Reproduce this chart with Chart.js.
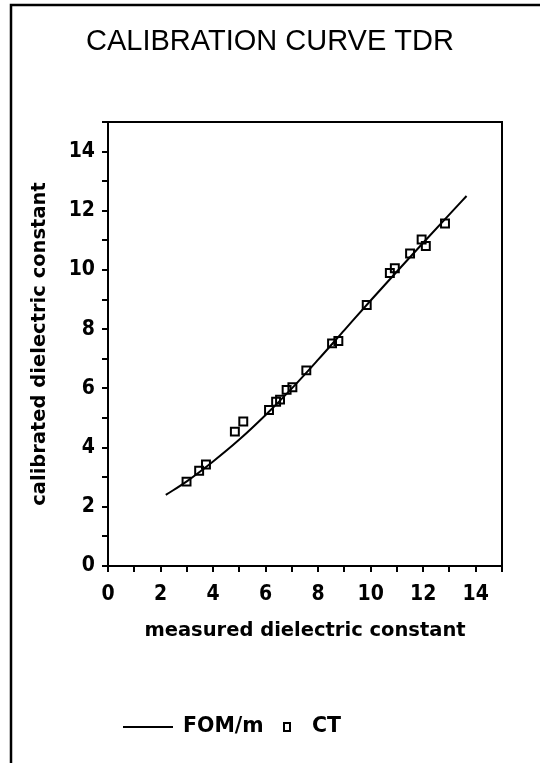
<!DOCTYPE html>
<html><head><meta charset="utf-8">
<script src="https://cdn.jsdelivr.net/npm/chart.js@4/dist/chart.umd.min.js"></script>
<style>html,body{margin:0;padding:0;background:#fff;}canvas{display:block;}</style>
</head><body>
<canvas id="c" width="540" height="763"></canvas>
<script>
// ---- data ----
const chartTitle = 'CALIBRATION CURVE TDR';
const xAxisTitle = 'measured dielectric constant';
const yAxisTitle = 'calibrated dielectric constant';
const seriesNames = ['FOM/m', 'CT'];
const axisMin = 0;
const axisMax = 15;
const tickStep = 1;
const labelledTicks = [0, 2, 4, 6, 8, 10, 12, 14];

// fitted calibration curve (FOM/m)
const fomMeasured   = [2.2, 3.0, 4.0, 5.0, 6.0, 7.0, 8.0, 9.0, 10.0, 11.0, 12.0, 13.0, 13.65];
const fomCalibrated = [2.40, 2.86, 3.53, 4.27, 5.10, 6.00, 6.97, 7.97, 8.97, 9.95, 10.92, 11.88, 12.50];

// CT measurements (squares)
const ctMeasured   = [2.99, 3.47, 3.73, 4.83, 5.15, 6.13, 6.40, 6.55, 6.80, 7.02, 7.55, 8.53, 8.77, 9.85, 10.73, 10.92, 11.50, 11.94, 12.10, 12.83];
const ctCalibrated = [2.85, 3.22, 3.43, 4.54, 4.88, 5.27, 5.55, 5.62, 5.95, 6.04, 6.61, 7.52, 7.60, 8.82, 9.90, 10.06, 10.56, 11.03, 10.81, 11.57];

const toXY = (xs, ys) => xs.map((x, i) => ({x: x, y: ys[i]}));

const tickFont = {family: "'Liberation Sans Narrow', 'DejaVu Sans Condensed', 'Liberation Sans', sans-serif", size: 21, weight: 'bold'};
const textFont = {family: "'DejaVu Sans', sans-serif", size: 19.5, weight: 'bold'};

const framePlugin = {
  id: 'frame',
  afterDraw(chart) {
    const ctx = chart.ctx;
    const a = chart.chartArea;
    ctx.save();
    ctx.strokeStyle = '#000';
    // outer page frame (top and left edges)
    ctx.lineWidth = 2.5;
    ctx.beginPath();
    ctx.moveTo(11, 763); ctx.lineTo(11, 5); ctx.lineTo(540, 5);
    ctx.stroke();
    // plot box top & right
    ctx.lineWidth = 2;
    ctx.beginPath();
    ctx.moveTo(a.left, a.top); ctx.lineTo(a.right, a.top); ctx.lineTo(a.right, a.bottom);
    ctx.stroke();
    // legend
    const ds = chart.data.datasets;
    const ly = 727;
    ctx.lineWidth = ds[0].borderWidth;
    ctx.strokeStyle = ds[0].borderColor;
    ctx.beginPath(); ctx.moveTo(123, ly); ctx.lineTo(173, ly); ctx.stroke();
    ctx.font = "bold 20.5px 'DejaVu Sans', sans-serif";
    ctx.fillStyle = '#000';
    ctx.textBaseline = 'middle';
    ctx.textAlign = 'left';
    ctx.fillText(ds[0].label, 183, ly);
    ctx.lineWidth = 2;
    ctx.strokeStyle = ds[1].borderColor;
    ctx.strokeRect(284, ly - 4, 6, 8);
    ctx.fillText(ds[1].label, 312, ly);
    ctx.restore();
  }
};

const tickCb = v => labelledTicks.includes(v) ? String(v) : '';

new Chart(document.getElementById('c'), {
  type: 'scatter',
  data: {
    datasets: [
      {
        label: seriesNames[0],
        data: toXY(fomMeasured, fomCalibrated),
        showLine: true,
        borderColor: '#000',
        borderWidth: 2,
        pointRadius: 0,
        fill: false,
        cubicInterpolationMode: 'monotone'
      },
      {
        label: seriesNames[1],
        data: toXY(ctMeasured, ctCalibrated),
        showLine: false,
        pointStyle: 'rect',
        pointRadius: 5.6,
        pointBorderWidth: 2,
        borderColor: '#000',
        backgroundColor: 'rgba(0,0,0,0)'
      }
    ]
  },
  options: {
    responsive: false,
    animation: false,
    devicePixelRatio: 1,
    layout: {padding: {left: 0, right: 0, top: 0, bottom: 0}},
    plugins: {
      legend: {display: false},
      tooltip: {enabled: false},
      title: {
        display: true,
        text: chartTitle,
        color: '#000',
        font: {family: "'Liberation Sans', Arial, sans-serif", size: 29, weight: 'normal'},
        padding: {top: 25, bottom: 62.2}
      }
    },
    scales: {
      x: {
        type: 'linear',
        min: axisMin, max: axisMax,
        afterFit: s => { s.height = 197; },
        border: {display: true, color: '#000', width: 2},
        grid: {display: true, drawOnChartArea: false, drawTicks: true, tickLength: 6, color: '#000', lineWidth: 2},
        ticks: {stepSize: tickStep, autoSkip: false, maxRotation: 0, color: '#000', font: tickFont, padding: 10, callback: tickCb},
        title: {display: true, text: xAxisTitle, color: '#000', font: textFont, padding: {top: 0, bottom: 120}}
      },
      y: {
        type: 'linear',
        min: axisMin, max: axisMax,
        afterFit: s => { s.width = 108; },
        border: {display: true, color: '#000', width: 2},
        grid: {display: true, drawOnChartArea: false, drawTicks: true, tickLength: 6, color: '#000', lineWidth: 2},
        ticks: {stepSize: tickStep, autoSkip: false, color: '#000', font: tickFont, padding: 7, callback: tickCb},
        title: {display: true, text: yAxisTitle, color: '#000', font: textFont, padding: {top: 28.3, bottom: 0}}
      },
      ySpacer: {
        type: 'linear',
        position: 'right',
        min: axisMin, max: axisMax,
        afterFit: s => { s.width = 38; },
        border: {display: false},
        grid: {display: false},
        ticks: {display: false}
      }
    }
  },
  plugins: [framePlugin]
});
</script>
</body></html>
